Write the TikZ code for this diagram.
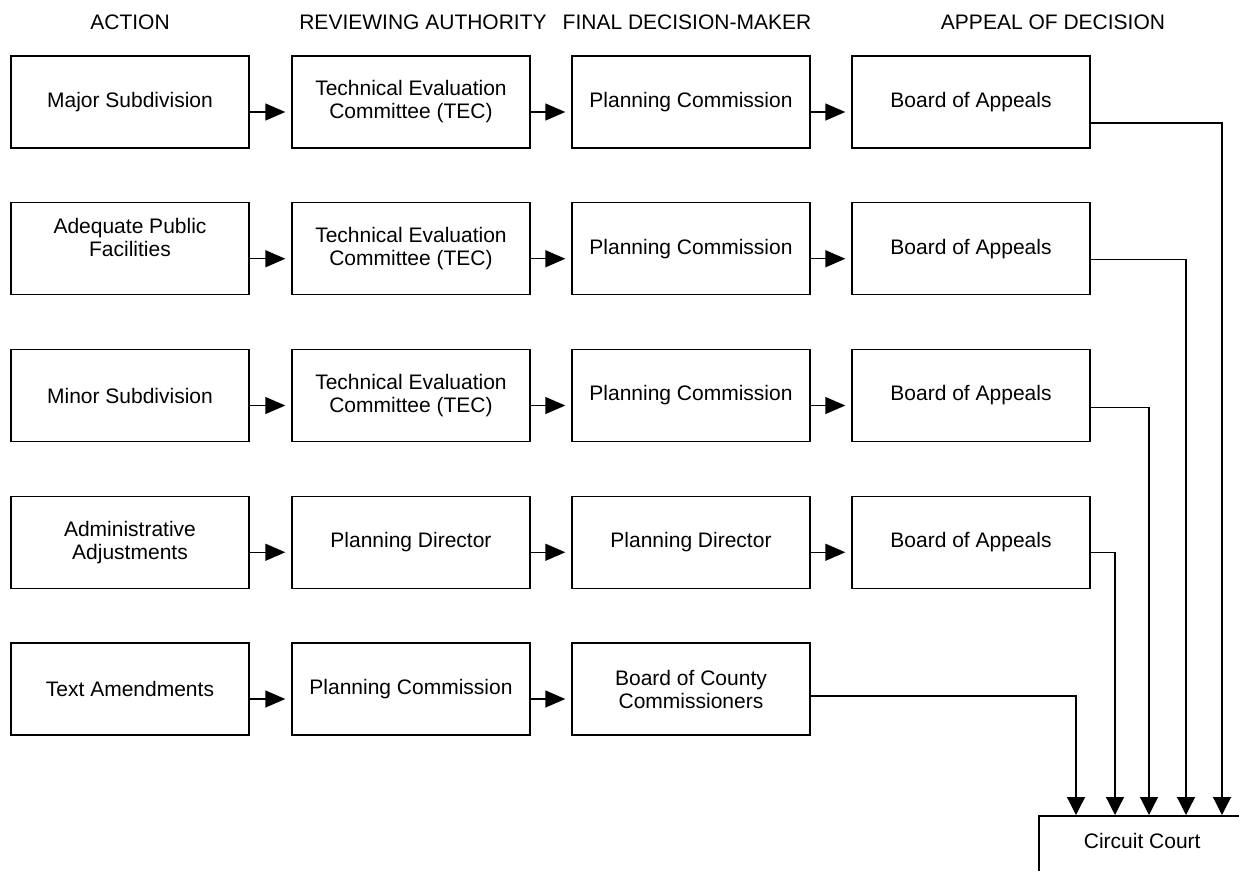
\documentclass[tikz,border=0pt]{standalone}
\usepackage{fontspec}
\setmainfont{Liberation Sans}
\usetikzlibrary{arrows.meta}

\begin{document}
\begin{tikzpicture}[x=1pt,y=1pt]
	\tikzstyle{box} = [draw=black,line width=1.4pt,minimum width=238pt,minimum height=92pt,align=center,font=\fontsize{21}{23}\selectfont]
	\tikzstyle{title} = [font=\fontsize{21}{23}\selectfont]
	\tikzstyle{link} = [line width=1.4pt,-{Triangle[length=20pt,width=17pt]},shorten >=6pt]
	\tikzstyle{feed} = [line width=1.2pt,-{Triangle[length=18pt,width=18pt]},shorten >=1pt]
	\useasboundingbox (0,0) rectangle (1239,-871);
	% column titles
	\node[title] (tact) at (130,-22) {ACTION};
	\node[title] (trev) at (423,-22) {REVIEWING AUTHORITY};
	\node[title] (tfin) at (687,-22) {FINAL DECISION-MAKER};
	\node[title] (tapp) at (1053,-22) {APPEAL OF DECISION};
	% action
	\foreach \i/\t in {1/Major Subdivision, 2/{Adequate Public\\Facilities\\~}, 3/Minor Subdivision,
		4/{Administrative\\Adjustments}, 5/Text Amendments}
		\node[box] (act\i) at (130, -102-\i*146.75+146.75) {\t};
	% reviewing authority
	\foreach \i/\t in {1/{Technical Evaluation\\Committee (TEC)}, 2/{Technical Evaluation\\Committee (TEC)},
		3/{Technical Evaluation\\Committee (TEC)}, 4/Planning Director, 5/Planning Commission}
		\node[box] (rev\i) at (411, -102-\i*146.75+146.75) {\t};
	% final decision-maker
	\foreach \i/\t in {1/Planning Commission, 2/Planning Commission, 3/Planning Commission,
		4/Planning Director, 5/{Board of County\\Commissioners}}
		\node[box] (fin\i) at (691, -102-\i*146.75+146.75) {\t};
	% appeal of decision
	\foreach \i in {1,...,4}
		\node[box] (app\i) at (971, -102-\i*146.75+146.75) {Board of Appeals};
	% circuit court
	\node[title,anchor=north west,minimum width=206pt,text height=28.7pt,text depth=40pt] (court) at (1039,-816) {Circuit Court};
	\draw[line width=1.4pt] (court.north west |- 0,-871) -- (court.north west) -- (court.north west -| 1239,0);
	% connections along each row
	\foreach \i in {1,...,5} {
		\draw[link] ([yshift=-10pt]act\i.east) -- ([yshift=-10pt]rev\i.west);
		\draw[link] ([yshift=-10pt]rev\i.east) -- ([yshift=-10pt]fin\i.west);
	}
	\foreach \i in {1,...,4}
		\draw[link] ([yshift=-10pt]fin\i.east) -- ([yshift=-10pt]app\i.west);
	% connections to circuit court
	\foreach \i/\x in {1/1222, 2/1186, 3/1149, 4/1115, 5/1076}
		\coordinate (drop\i) at (\x,0);
	\foreach \i/\s in {1/21, 2/11, 3/12, 4/10}
		\draw[feed] ([yshift=-\s pt]app\i.east) -| (drop\i |- court.north);
	\draw[feed] ([yshift=-7pt]fin5.east) -| (drop5 |- court.north);
\end{tikzpicture}
\end{document}
